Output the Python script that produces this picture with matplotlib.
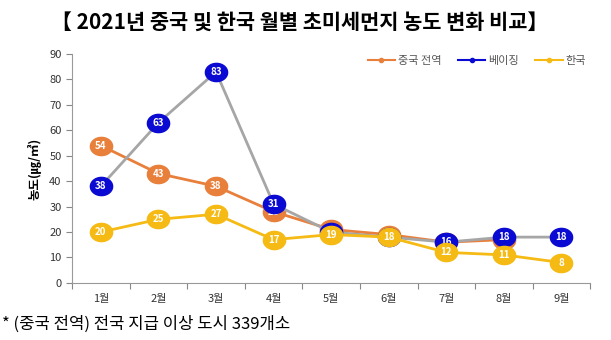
import matplotlib
matplotlib.use('Agg')
import matplotlib.pyplot as plt
import numpy as np
from matplotlib.path import Path

plt.rcParams['font.family'] = ['Noto Sans CJK KR', 'DejaVu Sans']

months = ['1월', '2월', '3월', '4월', '5월', '6월', '7월', '8월', '9월']
china = [54, 43, 38, 28, 21, 19, 16, 17]
beijing = [38, 63, 83, 31, 20, 18, 16, 18, 18]
korea = [20, 25, 27, 17, 19, 18, 12, 11, 8]

c_orange = '#E8803C'
c_blue = '#0A0AD2'
c_gold = '#F5BA14'
c_gray = '#A6A6A6'

# slightly wide ellipse marker, like the Excel original
t = np.linspace(0, 2 * np.pi, 60)
ellipse = Path(np.column_stack([1.22 * np.cos(t), np.sin(t)]), closed=True)

fig = plt.figure(figsize=(6.11, 3.40), dpi=100)
ax = fig.add_axes([0.118, 0.168, 0.848, 0.673])

x = list(range(1, len(months) + 1))

def draw(vals, line_c, mark_c, z):
    xs = x[:len(vals)]
    ax.plot(xs, vals, color=line_c, lw=2, zorder=z)
    ax.plot(xs, vals, ls='none', marker=ellipse, color=mark_c, ms=16, zorder=z + 0.5)
    for xi, v in zip(xs, vals):
        ax.text(xi, v, str(v), color='white', fontsize=7, fontweight='bold',
                ha='center', va='center', zorder=z + 0.6)

draw(china, c_orange, c_orange, 2)
draw(beijing, c_gray, c_blue, 3)
draw(korea, c_gold, c_gold, 4)

ax.set_xlim(0.5, 9.5)
ax.set_ylim(0, 90)
ax.set_yticks(range(0, 91, 10))
ax.set_xticks([i + 0.5 for i in range(0, 10)])
ax.set_xticklabels([])
ax.set_xticks(x, minor=True)
ax.set_xticklabels(months, minor=True)
ax.tick_params(axis='x', which='minor', length=0, pad=8, labelsize=8, labelcolor='#333333')
ax.tick_params(axis='x', which='major', length=4, color='#888888')
ax.tick_params(axis='y', length=4, color='#888888', labelsize=8, labelcolor='#333333')
for s in ['top', 'right']:
    ax.spines[s].set_visible(False)
for s in ['left', 'bottom']:
    ax.spines[s].set_color('#999999')

ax.set_ylabel('농도(㎍/㎥)', fontsize=9, fontweight='bold', labelpad=6)

# legend
h1, = ax.plot([], [], color=c_orange, marker='o', ms=3, lw=1.5)
h2, = ax.plot([], [], color=c_blue, marker='o', ms=3, lw=1.5)
h3, = ax.plot([], [], color=c_gold, marker='o', ms=3, lw=1.5)
fig.legend([h1, h2, h3], ['중국 전역', '베이징', '한국'], loc='center',
           bbox_to_anchor=(0.78, 0.82), ncol=3, frameon=False, fontsize=8,
           handlelength=2.5, columnspacing=1.5, handletextpad=0.2,
           labelcolor='#555555')

fig.text(0.49, 0.935, '【 2021년 중국 및 한국 월별 초미세먼지 농도 변화 비교】',
         ha='center', va='center', fontsize=15, fontweight='bold')
fig.text(0.003, 0.045, '* (중국 전역) 전국 지급 이상 도시 339개소',
         ha='left', va='center', fontsize=12)

fig.savefig('out.png', dpi=100)
